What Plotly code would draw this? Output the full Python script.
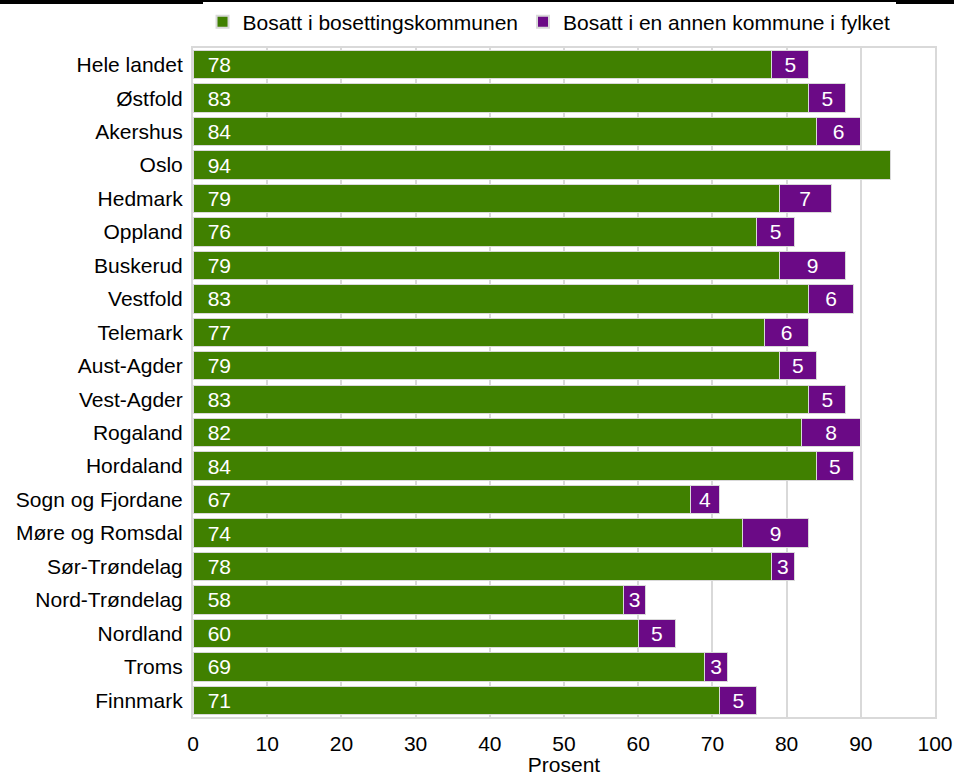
import plotly.graph_objects as go

categories = ["Hele landet", "Østfold", "Akershus", "Oslo", "Hedmark", "Oppland", "Buskerud",
              "Vestfold", "Telemark", "Aust-Agder", "Vest-Agder", "Rogaland", "Hordaland",
              "Sogn og Fjordane", "Møre og Romsdal", "Sør-Trøndelag", "Nord-Trøndelag",
              "Nordland", "Troms", "Finnmark"]
bosatt_kommune = [78, 83, 84, 94, 79, 76, 79, 83, 77, 79, 83, 82, 84, 67, 74, 78, 58, 60, 69, 71]
bosatt_fylke = [5, 5, 6, None, 7, 5, 9, 6, 6, 5, 5, 8, 5, 4, 9, 3, 3, 5, 3, 5]
series_names = ["Bosatt i bosettingskommunen", "Bosatt i en annen kommune i fylket"]
tick_vals = [0, 10, 20, 30, 40, 50, 60, 70, 80, 90, 100]

GREEN = "#408000"
PURPLE = "#6B0A86"
FONT = "Liberation Sans, Arial, sans-serif"
FS = 21

fig = go.Figure()
fig.add_trace(go.Bar(
    y=categories, x=bosatt_kommune, orientation="h", name=series_names[0],
    marker=dict(color=GREEN, line=dict(color="#d9d9d9", width=1)),
    text=["\u00a0\u00a0" + str(v) for v in bosatt_kommune],
    textposition="inside", insidetextanchor="start", textangle=0,
    constraintext="none",
    textfont=dict(color="white", size=FS, family=FONT),
    hoverinfo="x+y",
))
fig.add_trace(go.Bar(
    y=categories, x=bosatt_fylke, orientation="h", name=series_names[1],
    marker=dict(color=PURPLE, line=dict(color="#d9d9d9", width=1)),
    text=["" if v is None else str(v) for v in bosatt_fylke],
    textposition="inside", insidetextanchor="middle", textangle=0,
    constraintext="none",
    textfont=dict(color="white", size=FS, family=FONT),
    hoverinfo="x+y",
))

fig.update_layout(
    barmode="stack", bargap=0.15,
    width=954, height=776,
    margin=dict(l=193, r=19, t=48, b=59, autoexpand=False),
    paper_bgcolor="white", plot_bgcolor="white",
    font=dict(family=FONT, size=FS, color="black"),
    showlegend=True,
    legend=dict(orientation="h", xref="container", yref="container",
                x=0.5755, xanchor="center", y=1 - 22 / 776, yanchor="middle",
                font=dict(size=FS), itemwidth=30, traceorder="normal",
                itemsizing="constant", tracegroupgap=0),
    shapes=[dict(type="rect", xref="paper", yref="paper", x0=-0.3, x1=1.1,
                 y0=1 + 44 / 669, y1=1 + 50 / 669,
                 fillcolor="black", line=dict(width=0))],
)
fig.update_xaxes(range=[0, 100], tickvals=tick_vals, showgrid=True, gridcolor="#d9d9d9",
                 gridwidth=2, zeroline=False, showline=True, linecolor="#d9d9d9",
                 linewidth=2, mirror=True, ticks="outside", ticklen=7,
                 tickcolor="rgba(0,0,0,0)", tickfont=dict(size=FS),
                 automargin=False,
                 title=dict(text="Prosent", standoff=9, font=dict(size=FS)))
fig.update_yaxes(autorange="reversed", showgrid=False, showline=True, linecolor="#d9d9d9",
                 linewidth=2, mirror=True, ticks="outside", ticklen=4,
                 tickcolor="rgba(0,0,0,0)", tickfont=dict(size=FS), automargin=False)

fig.write_html("out.html", config={"displayModeBar": False},
               post_script="document.body.style.margin='0';")
